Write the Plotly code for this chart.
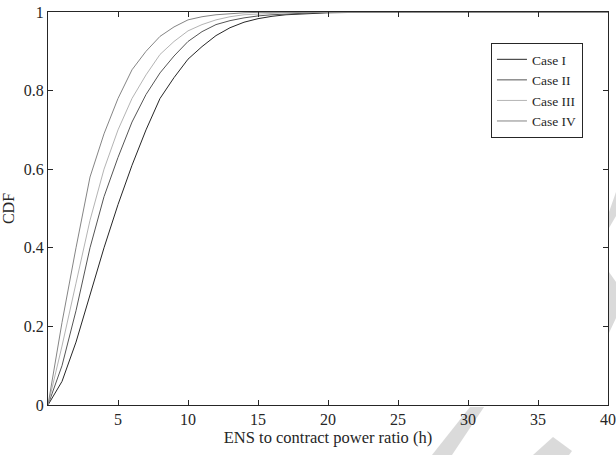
import plotly.graph_objects as go

x_vals = [0, 1, 2, 3, 4, 5, 6, 7, 8, 9, 10, 11, 12, 13, 14, 15, 16, 17, 18, 19, 20, 22, 25, 30, 35, 40]

case_i = [0, 0.06, 0.16, 0.28, 0.40, 0.51, 0.61, 0.70, 0.78, 0.833, 0.88, 0.912, 0.94, 0.96, 0.974,
          0.983, 0.989, 0.993, 0.995, 0.997, 0.998, 0.999, 1.0, 1.0, 1.0, 1.0]
case_ii = [0, 0.10, 0.24, 0.40, 0.53, 0.63, 0.72, 0.79, 0.845, 0.888, 0.925, 0.95, 0.968, 0.978, 0.985,
           0.99, 0.993, 0.995, 0.997, 0.998, 0.999, 0.999, 1.0, 1.0, 1.0, 1.0]
case_iii = [0, 0.15, 0.31, 0.47, 0.60, 0.70, 0.78, 0.84, 0.892, 0.925, 0.952, 0.968, 0.98, 0.988, 0.993,
            0.995, 0.997, 0.998, 0.999, 0.999, 1.0, 1.0, 1.0, 1.0, 1.0, 1.0]
case_iv = [0, 0.21, 0.40, 0.58, 0.69, 0.78, 0.853, 0.90, 0.938, 0.962, 0.98, 0.988, 0.993, 0.996, 0.998,
           0.999, 0.999, 1.0, 1.0, 1.0, 1.0, 1.0, 1.0, 1.0, 1.0, 1.0]

names = ["Case I", "Case II", "Case III", "Case IV"]
colors = ["#262626", "#555555", "#b4b4b4", "#858585"]
series = [case_i, case_ii, case_iii, case_iv]

x_ticks = [5, 10, 15, 20, 25, 30, 35, 40]
y_ticks = [0, 0.2, 0.4, 0.6, 0.8, 1]
y_tick_labels = ["0", "0.2", "0.4", "0.6", "0.8", "1"]

# light gray diagonal watermark pieces visible in the margins (pixel polygons)
W, H = 616, 455
ML, MR, MT, MB = 48, 8, 12, 50
watermark_polys = [
    [(470, 407), (484, 407), (452, 455), (432, 455)],
    [(553, 437), (572, 451), (569, 455), (533, 455)],
    [(609, 212), (616, 192), (616, 216), (609, 228)],
    [(609, 272), (616, 282), (616, 318), (609, 333)],
]


def to_paper(px, py):
    return (px - ML) / (W - ML - MR), (H - MB - py) / (H - MT - MB)


fig = go.Figure()
for name, col, ys in zip(names, colors, series):
    fig.add_trace(go.Scatter(x=x_vals, y=ys, mode="lines", name=name,
                             line=dict(color=col, width=1)))

for poly in watermark_polys:
    pts = [to_paper(px, py) for px, py in poly]
    path = "M " + " L ".join(f"{a:.4f},{b:.4f}" for a, b in pts) + " Z"
    fig.add_shape(type="path", path=path, xref="paper", yref="paper",
                  fillcolor="#dadada", line=dict(width=0), layer="below")

font_family = "Liberation Serif"
axis_common = dict(showline=True, linecolor="#262626", linewidth=1, mirror="ticks",
                   ticks="inside", ticklen=5, tickcolor="#262626", showgrid=False,
                   zeroline=False, automargin=False,
                   tickfont=dict(family=font_family, size=16, color="#262626"))

fig.update_layout(
    width=W, height=H,
    margin=dict(l=ML, r=MR, t=MT, b=MB),
    paper_bgcolor="white", plot_bgcolor="white",
    font=dict(family=font_family, size=16, color="#262626"),
    xaxis=dict(range=[0, 40], tickvals=x_ticks, ticktext=[str(v) for v in x_ticks],
               title=dict(text="ENS to contract power ratio (h)",
                          font=dict(family=font_family, size=16.5), standoff=4),
               **axis_common),
    yaxis=dict(range=[0, 1], tickvals=y_ticks, ticktext=y_tick_labels,
               title=dict(text="CDF", font=dict(family=font_family, size=16), standoff=6),
               **axis_common),
    legend=dict(x=0.791, y=0.921, xanchor="left", yanchor="top",
                bgcolor="white", bordercolor="#262626", borderwidth=1,
                font=dict(family=font_family, size=13.5, color="#262626"),
                itemwidth=30, tracegroupgap=0),
    showlegend=True,
)

fig.write_html("out.html", config={"displayModeBar": False},
               post_script="document.body.style.margin='0';")
